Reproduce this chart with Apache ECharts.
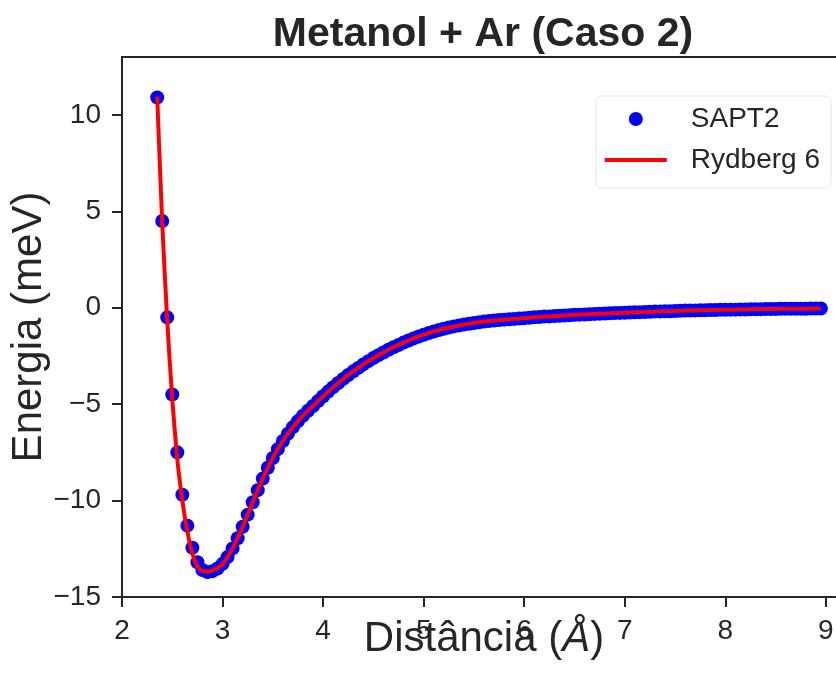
<!DOCTYPE html>
<html>
<head>
<meta charset="utf-8">
<script src="https://cdn.jsdelivr.net/npm/echarts@6/dist/echarts.min.js"></script>
<style>html,body{margin:0;padding:0;background:#fff}#c{width:836px;height:674px}</style>
</head>
<body>
<div id="c"></div>
<script>
const distance = [
  2.35,2.40,2.45,2.50,2.55,2.60,2.65,2.70,2.75,2.80,
  2.85,2.90,2.95,3.00,3.05,3.10,3.15,3.20,3.25,3.30,
  3.35,3.40,3.45,3.50,3.55,3.60,3.65,3.70,3.75,3.80,
  3.85,3.90,3.95,4.00,4.05,4.10,4.15,4.20,4.25,4.30,
  4.35,4.40,4.45,4.50,4.55,4.60,4.65,4.70,4.75,4.80,
  4.85,4.90,4.95,5.00,5.05,5.10,5.15,5.20,5.25,5.30,
  5.35,5.40,5.45,5.50,5.55,5.60,5.65,5.70,5.75,5.80,
  5.85,5.90,5.95,6.00,6.05,6.10,6.15,6.20,6.25,6.30,
  6.35,6.40,6.45,6.50,6.55,6.60,6.65,6.70,6.75,6.80,
  6.85,6.90,6.95,7.00,7.05,7.10,7.15,7.20,7.25,7.30,
  7.35,7.40,7.45,7.50,7.55,7.60,7.65,7.70,7.75,7.80,
  7.85,7.90,7.95,8.00,8.05,8.10,8.15,8.20,8.25,8.30,
  8.35,8.40,8.45,8.50,8.55,8.60,8.65,8.70,8.75,8.80,
  8.85,8.90,8.95
];
const sapt2 = [
  10.9,4.5,-0.5,-4.5,-7.5,-9.7,-11.3,-12.45,-13.2,-13.6,
  -13.7,-13.66,-13.52,-13.28,-12.93,-12.48,-11.95,-11.36,-10.73,-10.09,
  -9.46,-8.86,-8.30,-7.79,-7.33,-6.91,-6.53,-6.19,-5.88,-5.60,
  -5.34,-5.10,-4.84,-4.59,-4.35,-4.12,-3.90,-3.69,-3.49,-3.30,
  -3.12,-2.94,-2.77,-2.61,-2.46,-2.32,-2.18,-2.05,-1.93,-1.81,
  -1.70,-1.59,-1.49,-1.40,-1.31,-1.23,-1.16,-1.09,-1.03,-0.97,
  -0.92,-0.87,-0.83,-0.79,-0.75,-0.72,-0.69,-0.66,-0.64,-0.62,
  -0.60,-0.58,-0.56,-0.54,-0.52,-0.50,-0.48,-0.46,-0.45,-0.43,
  -0.42,-0.40,-0.39,-0.37,-0.36,-0.35,-0.34,-0.32,-0.31,-0.30,
  -0.29,-0.28,-0.27,-0.26,-0.25,-0.24,-0.23,-0.22,-0.21,-0.20,
  -0.19,-0.18,-0.18,-0.17,-0.16,-0.15,-0.15,-0.14,-0.13,-0.13,
  -0.12,-0.12,-0.11,-0.11,-0.10,-0.10,-0.09,-0.09,-0.08,-0.08,
  -0.08,-0.07,-0.07,-0.07,-0.06,-0.06,-0.06,-0.05,-0.05,-0.05,
  -0.04,-0.04,-0.04
];
const rydberg6 = [
  10.95,4.4,-0.7,-4.75,-7.85,-10.0,-11.6,-12.75,-13.4,-13.65,
  -13.68,-13.62,-13.5,-13.28,-12.93,-12.48,-11.95,-11.36,-10.73,-10.09,
  -9.46,-8.86,-8.30,-7.79,-7.33,-6.91,-6.53,-6.19,-5.88,-5.60,
  -5.34,-5.10,-4.84,-4.59,-4.35,-4.12,-3.90,-3.69,-3.49,-3.30,
  -3.12,-2.94,-2.77,-2.61,-2.46,-2.32,-2.18,-2.05,-1.93,-1.81,
  -1.70,-1.59,-1.49,-1.40,-1.31,-1.23,-1.16,-1.09,-1.03,-0.97,
  -0.92,-0.87,-0.83,-0.79,-0.75,-0.72,-0.69,-0.66,-0.64,-0.62,
  -0.60,-0.58,-0.56,-0.54,-0.52,-0.50,-0.48,-0.46,-0.45,-0.43,
  -0.42,-0.40,-0.39,-0.37,-0.36,-0.35,-0.34,-0.32,-0.31,-0.30,
  -0.29,-0.28,-0.27,-0.26,-0.25,-0.24,-0.23,-0.22,-0.21,-0.20,
  -0.19,-0.18,-0.18,-0.17,-0.16,-0.15,-0.15,-0.14,-0.13,-0.13,
  -0.12,-0.12,-0.11,-0.11,-0.10,-0.10,-0.09,-0.09,-0.08,-0.08,
  -0.08,-0.07,-0.07,-0.07,-0.06,-0.06,-0.06,-0.05,-0.05,-0.05,
  -0.04,-0.04,-0.04
];
const xTicks = [2,3,4,5,6,7,8,9];
const yTicks = [-15,-10,-5,0,5,10];

const FONT = '"Liberation Sans", Arial, sans-serif';
const INK = '#262626';
const chart = echarts.init(document.getElementById('c'), null, {renderer: 'canvas'});
chart.setOption({
  animation: false,
  backgroundColor: '#ffffff',
  graphic: [{
    type: 'text', x: 483, y: 35,
    style: {text: 'Metanol + Ar (Caso 2)', fill: INK, font: 'bold 41px ' + FONT,
            textAlign: 'center', textVerticalAlign: 'middle'}
  }],
  grid: {left: 122, right: -10, top: 57, bottom: 77, show: true,
         outerBoundsMode: 'none', containLabel: false,
         borderColor: INK, borderWidth: 2, backgroundColor: 'transparent'},
  legend: {
    right: 5, top: 96, orient: 'vertical',
    data: [
      {name: 'SAPT2', icon: 'circle'},
      {name: 'Rydberg 6', icon: 'path://M0,0 L62,0 L62,4 L0,4 Z'}
    ],
    itemWidth: 62, itemHeight: 14, itemGap: 13,
    padding: [9, 11, 14, 9],
    backgroundColor: 'rgba(255,255,255,0.8)', borderColor: '#e6e6e6', borderWidth: 1, borderRadius: 5,
    textStyle: {fontFamily: FONT, fontSize: 28, color: INK, padding: [0, 0, 0, 19]}
  },
  xAxis: {
    type: 'value', min: 2, max: 9.2, interval: 1,
    name: 'Distância ({i|Å})', nameLocation: 'middle', nameGap: 21, nameMoveOverlap: false,
    nameTextStyle: {fontFamily: FONT, fontSize: 42, color: INK,
      rich: {i: {fontFamily: FONT, fontSize: 42, color: INK, fontStyle: 'italic'}}},
    axisLine: {show: true, onZero: false, lineStyle: {color: INK, width: 2}},
    axisTick: {show: true, length: 10, lineStyle: {color: INK, width: 2}, customValues: xTicks},
    axisLabel: {fontFamily: FONT, fontSize: 28, color: INK, margin: 20, customValues: xTicks},
    splitLine: {show: false}
  },
  yAxis: {
    type: 'value', min: -15, max: 13, interval: 5,
    name: 'Energia (meV)', nameLocation: 'middle', nameGap: 72, nameMoveOverlap: false,
    nameTextStyle: {fontFamily: FONT, fontSize: 42, color: INK},
    axisLine: {show: true, onZero: false, lineStyle: {color: INK, width: 2}},
    axisTick: {show: true, length: 10, lineStyle: {color: INK, width: 2}, customValues: yTicks},
    axisLabel: {fontFamily: FONT, fontSize: 28, color: INK, margin: 21, customValues: yTicks,
      formatter: v => String(v).replace('-', '\u2212')},
    splitLine: {show: false}
  },
  series: [{
    name: 'SAPT2', type: 'scatter', symbol: 'circle', symbolSize: 14,
    itemStyle: {color: '#0000ff', opacity: 1},
    data: distance.map((x, i) => [x, sapt2[i]]),
    z: 2
  }, {
    name: 'Rydberg 6', type: 'line', symbol: 'none', smooth: 0.2,
    lineStyle: {color: '#ff0000', width: 4},
    itemStyle: {color: '#ff0000'},
    data: distance.map((x, i) => [x, rydberg6[i]]),
    z: 3
  }]
});
</script>
</body>
</html>
